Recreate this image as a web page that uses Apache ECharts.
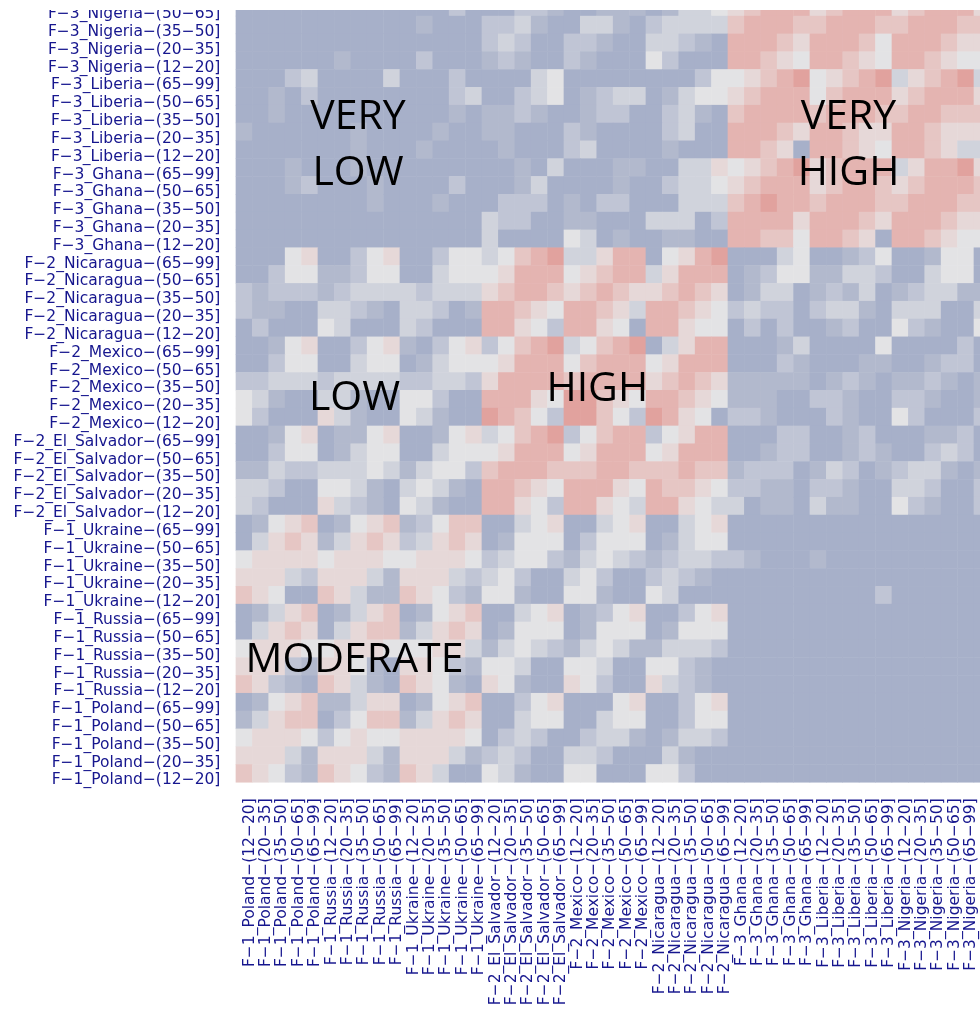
<!DOCTYPE html>
<html>
<head>
<meta charset="utf-8">
<script src="https://cdn.jsdelivr.net/npm/echarts@6/dist/echarts.min.js"></script>
<style>
  html, body { margin: 0; padding: 0; background: #fff; }
  #chart { width: 980px; height: 1009px; }
</style>
</head>
<body>
<div id="chart"></div>
<script>
const groups = ['F−1_Poland', 'F−1_Russia', 'F−1_Ukraine', 'F−2_El_Salvador', 'F−2_Mexico', 'F−2_Nicaragua', 'F−3_Ghana', 'F−3_Liberia', 'F−3_Nigeria']
const ageBands = ['(12−20]', '(20−35]', '(35−50]', '(50−65]', '(65−99]']
const categories = groups.flatMap(g => ageBands.map(a => g + '−' + a))
// the picture is cut on the right: one more column shows there, its label is lost
const xCategories = categories.concat([''])

// similarity level of each cell, 0 = lowest (blue) .. 8 = highest (red)
// rows go from the top (F−3_Nigeria−(65−99]) down to F−1_Poland−(12−20], one digit per column
const levels = [
  '0000000000000200022100111013345677756777567775',
  '0000000000000200022100111013345677756777567775',
  '0000000000010002231003310233336777667776677766',
  '0000000000000002320022100332107776577764777655',
  '0000001000020001210021000420007765477654776544',
  '0002300003000200003400000000244567845678356783',
  '0010200000000230023401233013445677746777567775',
  '0010000000000101121001220023106777767776677666',
  '1000000100001001100021000023007776577655776555',
  '0000000100010000100023000010007765077654776533',
  '0001000100000000010300011003354567856777357785',
  '0001200010000200013000010023345677756776567776',
  '0000000010001000222010220003336787767776677766',
  '0000000000000003220011000333027777577765777655',
  '0000000000000003000043010011007766477650776544',
  '0004500245002443467833577045780003400124001440',
  '0024411244003444577745677357770124411332003440',
  '2122212333323335677656765567650133012130123311',
  '2110033210332017765477653776542322023310333003',
  '0200043000320007754277540775440202001200421004',
  '0014500245102452467834678035770001300004000020',
  '0024400344013444577746777457770002100011001220',
  '2233323333223325777767777567651111101210112101',
  '4310033100442007775488654776541110022100221001',
  '4200053100431008764288642875402210002100420002',
  '0014501145001453467824677245770002200120001120',
  '0024401344003444577745777457770012200121002320',
  '1132233343134426777666776667661222013201233101',
  '3320044310343107765477754766542211022100332002',
  '3200053210431007754277543775433011031100421002',
  '0145601456124660034500345003450000000000000000',
  '0356513565235650144402444013440000000000000000',
  '4555545554455542344213432123322100010000000000',
  '5553255531555323420034200232100000000000000000',
  '6540065311654214410044100430000000000002000000',
  '0135601356014560034501245002450000000000000000',
  '0356503566135650144401444014440000000000000000',
  '4555445554445531343213431133320000000000000000',
  '5552155410554214430044300442100000000000000000',
  '6521065310654105410054200532100000000000000000',
  '0145611355014560024500045002450000000000000000',
  '1356602466135650034400344002440000000000000000',
  '4555424544555540232002331013320000000000000000',
  '5553155531555312320033200031000000000000000000',
  '6542165421653004310044000442000000000000000000'
]

const levelColors = ['#a7b0c9', '#b2b9cd', '#c0c5d5', '#d0d3dc', '#e3e3e5', '#e6d8d8', '#e6c6c4', '#e4b4b1', '#e1a29e']

const cells = []
levels.forEach((row, r) => {
  for (let c = 0; c < row.length; c++) {
    cells.push([c, categories.length - 1 - r, Number(row[c])])
  }
})

const chart = echarts.init(document.getElementById('chart'))

const labelFont = {
  color: '#16168e',
  fontFamily: 'DejaVu Sans',
  fontSize: 15.5,
}

const regionText = {
  fontSize: 41,
  fontFamily: 'Open Sans',
  textAlign: 'center',
  textVerticalAlign: 'middle',
  fill: '#000',
}

chart.setOption({
  animation: false,
  backgroundColor: '#fff',
  grid: {
    left: 235.9,
    top: -19.6,
    width: 754.4,
    height: 801.9,
    outerBoundsMode: 'none',
    containLabel: false,
  },
  xAxis: {
    type: 'category',
    data: xCategories,
    offset: 1,
    axisLine: { show: false },
    axisTick: {
      alignWithLabel: true,
      length: 6.5,
      lineStyle: { color: '#333', width: 2 },
    },
    axisLabel: {
      ...labelFont,
      interval: 0,
      rotate: 90,
      margin: 15,
      verticalAlign: 'top',
      lineHeight: 11,
    },
    splitLine: { show: false },
  },
  yAxis: {
    type: 'category',
    data: categories,
    offset: 1.5,
    axisLine: { show: false },
    axisTick: {
      alignWithLabel: true,
      length: 6,
      lineStyle: { color: '#333', width: 2 },
    },
    axisLabel: {
      ...labelFont,
      interval: 0,
      margin: 14,
      verticalAlign: 'top',
      lineHeight: 14,
    },
    splitLine: { show: false },
  },
  visualMap: {
    show: false,
    type: 'continuous',
    min: 0,
    max: 8,
    inRange: { color: levelColors },
  },
  series: [
    {
      type: 'heatmap',
      data: cells,
      itemStyle: { borderWidth: 0 },
      emphasis: { disabled: true },
    },
  ],
  graphic: [
    { type: 'text', z: 50, style: { ...regionText, text: 'VERY\nLOW', x: 358, y: 145, lineHeight: 56 } },
    { type: 'text', z: 50, style: { ...regionText, text: 'VERY\nHIGH', x: 848.5, y: 145, lineHeight: 56 } },
    { type: 'text', z: 50, style: { ...regionText, text: 'LOW', x: 354.5, y: 398 } },
    { type: 'text', z: 50, style: { ...regionText, text: 'HIGH', x: 597.3, y: 389.5 } },
    { type: 'text', z: 50, style: { ...regionText, text: 'MODERATE', x: 354.5, y: 660.3 } },
    {
      // the top strip of the picture is blank and covers the first rows
      type: 'rect',
      z: 100,
      left: 0,
      top: 0,
      shape: { width: 980, height: 10 },
      style: { fill: '#fff' },
    },
  ],
})
</script>
</body>
</html>
